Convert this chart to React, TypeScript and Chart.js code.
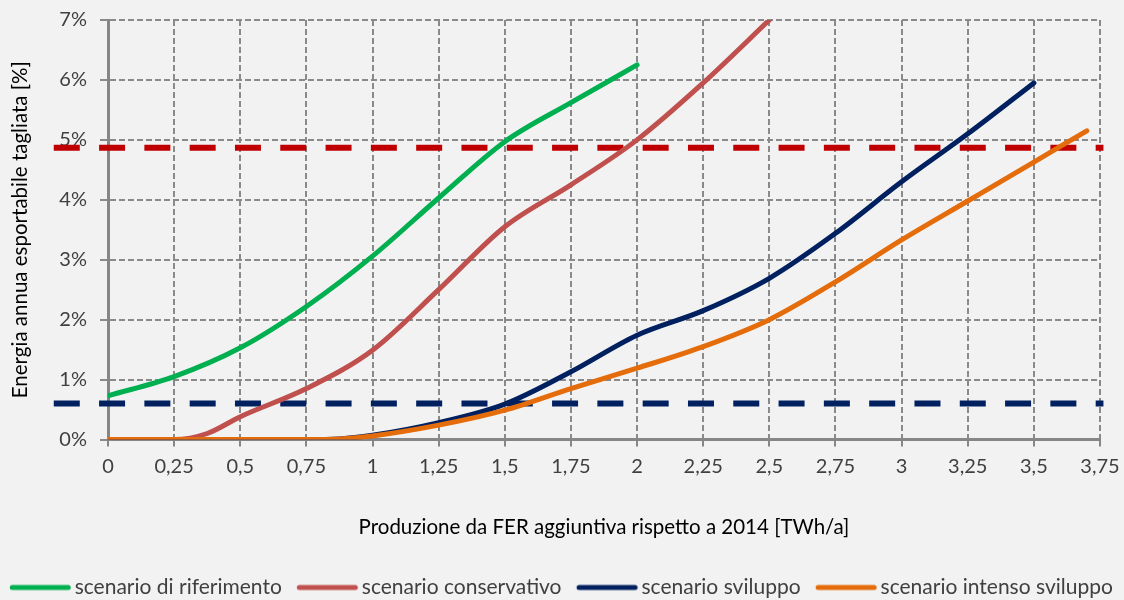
import React, { useEffect, useRef } from 'react';
import { Chart, registerables } from 'chart.js';

Chart.register(...registerables);

const seriesNames = [
  'scenario di riferimento',
  'scenario conservativo',
  'scenario sviluppo',
  'scenario intenso sviluppo',
];
const seriesColors = ['#00B050', '#C0504D', '#002060', '#E46C0A'];

const xRiferimento = [0, 0.25, 0.5, 0.75, 1, 1.25, 1.5, 1.75, 2];
const yRiferimento = [0.73, 1.05, 1.53, 2.22, 3.06, 4.03, 4.97, 5.62, 6.25];

const xConservativo = [0, 0.25, 0.375, 0.5, 0.75, 1, 1.25, 1.5, 1.75, 2, 2.25, 2.5];
const yConservativo = [0, 0, 0.1, 0.38, 0.85, 1.49, 2.5, 3.55, 4.25, 5.0, 5.95, 7.0];

const xSviluppo = [0, 0.25, 0.5, 0.75, 0.875, 1, 1.25, 1.5, 1.75, 2, 2.25, 2.5, 2.75, 3, 3.25, 3.5];
const ySviluppo = [0, 0, 0, 0, 0.01, 0.07, 0.28, 0.59, 1.13, 1.74, 2.15, 2.69, 3.44, 4.3, 5.1, 5.95];

const xIntenso = [0, 0.25, 0.5, 0.75, 0.875, 1, 1.25, 1.5, 1.75, 2, 2.25, 2.5, 2.75, 3, 3.25, 3.5, 3.7];
const yIntenso = [0, 0, 0, 0, 0.01, 0.06, 0.24, 0.49, 0.85, 1.19, 1.55, 2.0, 2.63, 3.33, 3.98, 4.63, 5.15];

const sogliaRossa = 4.87;
const sogliaBlu = 0.6;
const sogliaX = [-0.205, 3.763];
const sogliaColors = ['#C00000', '#002060'];

const xTitle = 'Produzione da FER aggiuntiva rispetto a 2014 [TWh/a]';
const yTitle = 'Energia annua esportabile tagliata [%]';

const FONT = 'Lato, "Open Sans", sans-serif';
const TICK_FS = 20;
const TITLE_FS = 20.5;
const LEGEND_FS = 21;

// layout
const LEFT_SHIFT = 7.4; // legend box extends slightly left of the canvas

// legend sample geometry
const LEG_PAD = 9;
const LEG_LINE_OFFSET = 6;
const LEG_LINE_LEN = 61;
const LEG_TEXT_GAP = 4;
const LEG_BOX = LEG_LINE_OFFSET + LEG_LINE_LEN + LEG_TEXT_GAP - LEGEND_FS / 2;

function pts(xs: number[], ys: number[]) {
  return xs.map((x, i) => ({ x, y: ys[i] }));
}

function legendLine(color: string) {
  const center = LEG_BOX / 2;
  const endRel = LEG_LINE_OFFSET + LEG_LINE_LEN - center;
  const half = Math.ceil(Math.max(endRel, center - LEG_LINE_OFFSET)) + 1;
  const c = document.createElement('canvas');
  c.width = half * 2;
  c.height = 8;
  const g = c.getContext('2d');
  if (g) {
    const start = half + (LEG_LINE_OFFSET - center) + 2.5;
    const end = half + endRel - 2.5;
    g.strokeStyle = color;
    g.lineWidth = 5;
    g.lineCap = 'round';
    g.beginPath();
    g.moveTo(start, 4);
    g.lineTo(end, 4);
    g.stroke();
  }
  return c;
}

export default function App() {
  const ref = useRef<HTMLCanvasElement | null>(null);

  useEffect(() => {
    if (!ref.current) return;
    const curves = [
      pts(xRiferimento, yRiferimento),
      pts(xConservativo, yConservativo),
      pts(xSviluppo, ySviluppo),
      pts(xIntenso, yIntenso),
    ];
    const datasets: any[] = curves.map((data, i) => ({
      label: seriesNames[i],
      data,
      borderColor: seriesColors[i],
      backgroundColor: seriesColors[i],
      borderWidth: 5,
      borderCapStyle: 'round',
      borderJoinStyle: 'round',
      pointRadius: 0,
      pointHoverRadius: 0,
      pointStyle: legendLine(seriesColors[i]),
      cubicInterpolationMode: 'monotone',
      fill: false,
      order: 3 - i,
    }));
    [sogliaRossa, sogliaBlu].forEach((v, i) => {
      datasets.push({
        label: 'soglia ' + i,
        data: [
          { x: sogliaX[0], y: v },
          { x: sogliaX[1], y: v },
        ],
        borderColor: sogliaColors[i],
        backgroundColor: sogliaColors[i],
        borderWidth: 6,
        borderDash: [26, 19.3],
        borderCapStyle: 'butt',
        pointRadius: 0,
        fill: false,
        clip: false,
        order: 10,
      });
    });

    const chart = new Chart(ref.current, {
      type: 'line',
      data: { datasets },
      options: {
        animation: false,
        responsive: true,
        maintainAspectRatio: false,
        layout: { padding: { top: 20, right: 0, left: -LEFT_SHIFT, bottom: 0 } },
        plugins: {
          tooltip: { enabled: false },
          legend: {
            position: 'bottom',
            labels: {
              usePointStyle: true,
              pointStyleWidth: LEG_BOX,
              padding: LEG_PAD,
              color: '#404040',
              font: { family: FONT, size: LEGEND_FS },
              filter: (item: any) => item.datasetIndex < 4,
              sort: (a: any, b: any) => a.datasetIndex - b.datasetIndex,
            },
          },
        },
        scales: {
          x: {
            type: 'linear',
            min: 0,
            max: 3.75,
            afterFit: (axis: any) => {
              axis.paddingLeft = 0;
              axis.paddingRight = 24;
            },
            grid: {
              color: '#8A8A8A',
              lineWidth: 2,
              tickLength: 7,
              tickColor: '#868686',
              tickWidth: 2,
            },
            border: { display: true, color: '#868686', width: 3, dash: [6, 3] },
            ticks: {
              stepSize: 0.25,
              padding: 8,
              color: '#404040',
              font: { family: FONT, size: TICK_FS },
              maxRotation: 0,
              autoSkip: false,
              callback: (v: any) => String(Number(v)).replace('.', ','),
            },
            title: {
              display: true,
              text: xTitle,
              color: '#000000',
              font: { family: FONT, size: TITLE_FS },
              padding: { top: 28.2, bottom: 28.7 },
            },
          },
          y: {
            min: 0,
            max: 7,
            afterFit: (axis: any) => {
              axis.width = 108 + LEFT_SHIFT;
              axis.paddingTop = 0;
              axis.paddingBottom = 0;
            },
            grid: {
              color: '#8A8A8A',
              lineWidth: 2,
              tickLength: 8,
            },
            border: { display: true, color: '#868686', width: 3, dash: [6, 3] },
            ticks: {
              stepSize: 1,
              padding: 13,
              color: '#404040',
              font: { family: FONT, size: TICK_FS },
              callback: (v: any) => v + '%',
            },
            title: {
              display: true,
              text: yTitle,
              color: '#000000',
              font: { family: FONT, size: TITLE_FS },
              padding: { top: 7.7 + LEFT_SHIFT, bottom: 0 },
            },
          },
        },
      },
    });
    return () => chart.destroy();
  }, []);

  return (
    <div
      style={{
        position: 'absolute',
        left: 0,
        top: 0,
        width: 1124,
        height: 600,
        background: '#F2F2F2',
        overflow: 'hidden',
      }}
    >
      <div style={{ position: 'relative', width: 1124, height: 608 }}>
        <canvas ref={ref} />
      </div>
    </div>
  );
}
